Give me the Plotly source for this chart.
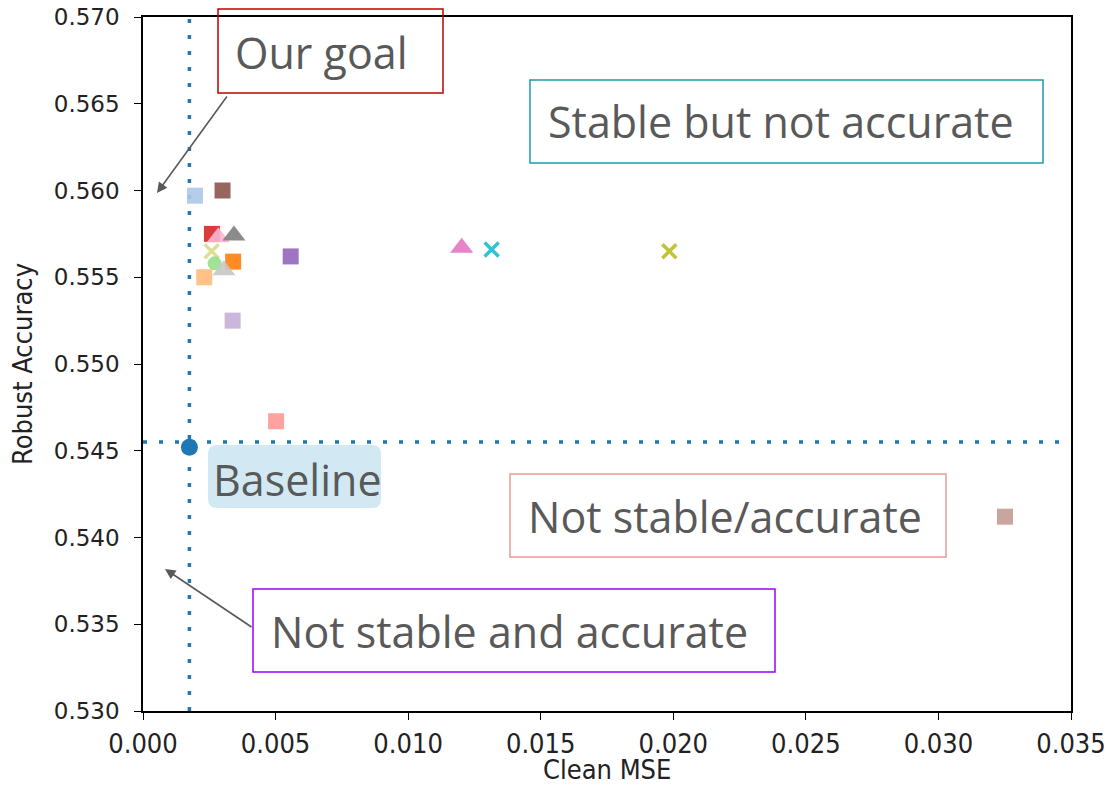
import plotly.graph_objects as go

# Clean MSE vs robust accuracy for each run (first entry is the baseline)
clean_mse = [0.00175, 0.00196, 0.00300, 0.00260, 0.00284, 0.00343, 0.00259, 0.00270,
             0.00340, 0.00305, 0.00231, 0.00557, 0.00338, 0.00502, 0.01202, 0.01315,
             0.01985, 0.03251]
robust_acc = [0.5452, 0.5597, 0.5600, 0.5575, 0.5573, 0.5574, 0.5565, 0.5558,
              0.5559, 0.5554, 0.5550, 0.5562, 0.5525, 0.5467, 0.5567, 0.5566,
              0.5565, 0.5412]

baseline_acc_level = 0.5455

x_ticks = [0.000, 0.005, 0.010, 0.015, 0.020, 0.025, 0.030, 0.035]
y_ticks = [0.530, 0.535, 0.540, 0.545, 0.550, 0.555, 0.560, 0.565, 0.570]

# marker styling per run
marker_colors = ["#1f77b4", "#aec7e8", "#8c564b", "#d62728", "#f7b6d2", "#7f7f7f",
                 "#dbdb8d", "#98df8a", "#ff7f0e", "#c7c7c7", "#ffbb78", "#9467bd",
                 "#c5b0d5", "#ff9896", "#e377c2", "#17becf", "#bcbd22", "#c49c94"]
marker_symbols = ["circle", "square", "square", "square", "triangle-up", "triangle-up",
                  "x-thin", "circle", "square", "triangle-up", "square", "square",
                  "square", "square", "triangle-up", "x-thin", "x-thin", "square"]

W, H = 1109, 788
L, R, T, B = 143, 38, 17, 77
PW, PH = W - L - R, H - T - B


def px(x):
    return (x - L) / PW


def py(y):
    return (H - B - y) / PH


fig = go.Figure()

# reference lines through the baseline
fig.add_trace(go.Scatter(
    x=[clean_mse[0], clean_mse[0]], y=[y_ticks[0], y_ticks[-1]], mode="lines",
    line=dict(color="#1f77b4", width=3.5, dash="4px,12px"), hoverinfo="skip",
    showlegend=False, cliponaxis=False))
fig.add_trace(go.Scatter(
    x=[x_ticks[0], x_ticks[-1]], y=[baseline_acc_level, baseline_acc_level], mode="lines",
    line=dict(color="#1f77b4", width=3.5, dash="4px,12px"), hoverinfo="skip",
    showlegend=False))

for i, (xv, yv) in enumerate(zip(clean_mse, robust_acc)):
    sym = marker_symbols[i]
    col = marker_colors[i]
    if sym == "x-thin":
        mk = dict(symbol=sym, size=14, color=col, line=dict(color=col, width=3.5))
    elif sym == "triangle-up":
        mk = dict(symbol=sym, size=20, color=col, line=dict(width=0))
    elif sym == "circle":
        mk = dict(symbol=sym, size=17 if i == 0 else 14, color=col, line=dict(width=0))
    else:
        mk = dict(symbol=sym, size=16, color=col, line=dict(width=0))
    fig.add_trace(go.Scatter(x=[xv], y=[yv], mode="markers", marker=mk,
                             opacity=0.9 if i else 1.0, showlegend=False))

text_col = "#595959"
box_font = dict(family="Open Sans, Lato, sans-serif", size=43, color=text_col)
axis_font = "DejaVu Sans Condensed, DejaVu Sans"

shapes = []
annotations = []


def box(x0, y0, x1, y1, color, width=1.5, fill=None):
    shapes.append(dict(type="rect", xref="paper", yref="paper",
                       x0=px(x0), x1=px(x1), y0=py(y1), y1=py(y0),
                       line=dict(color=color, width=width),
                       fillcolor=fill or "rgba(0,0,0,0)", layer="above"))


def label(x, y, text, size=43):
    annotations.append(dict(xref="paper", yref="paper", x=px(x), y=py(y), text=text,
                            showarrow=False, xanchor="left", yanchor="middle",
                            font=dict(box_font, size=size)))


def arrow(hx, hy, tx, ty):
    annotations.append(dict(xref="paper", yref="paper", x=px(hx), y=py(hy), text="",
                            showarrow=True, ax=tx - hx, ay=ty - hy, arrowhead=2,
                            arrowsize=1.3, arrowwidth=1.6, arrowcolor=text_col,
                            standoff=0, startstandoff=0))


# Baseline tag with rounded corners
bx0, by0, bx1, by1, r = 208, 445, 381, 508, 9
shapes.append(dict(
    type="path", xref="paper", yref="paper", layer="below",
    path=(f"M {px(bx0 + r)},{py(by0)} L {px(bx1 - r)},{py(by0)} "
          f"Q {px(bx1)},{py(by0)} {px(bx1)},{py(by0 + r)} L {px(bx1)},{py(by1 - r)} "
          f"Q {px(bx1)},{py(by1)} {px(bx1 - r)},{py(by1)} L {px(bx0 + r)},{py(by1)} "
          f"Q {px(bx0)},{py(by1)} {px(bx0)},{py(by1 - r)} L {px(bx0)},{py(by0 + r)} "
          f"Q {px(bx0)},{py(by0)} {px(bx0 + r)},{py(by0)} Z"),
    fillcolor="#d2e9f4", line=dict(width=0)))
label(211, 479, "Baseline")

box(218, 9, 443, 93, "#c00000")
label(233, 52, "Our goal")
arrow(157, 193, 228, 95)

box(530, 80, 1043, 163, "#1b9aaa")
label(546, 122, "Stable but not accurate")

box(510, 474, 946, 557, "#ea9a96")
label(526, 516, "Not stable/accurate")

box(253, 589, 775, 672, "#9900ff")
label(269, 631, "Not stable and accurate")
arrow(165, 569, 253, 628)

# axis titles
annotations.append(dict(xref="paper", yref="paper", x=0.5, y=py(787), text="Clean MSE",
                        showarrow=False, xanchor="center", yanchor="bottom",
                        font=dict(family=axis_font, size=27, color="#222")))
annotations.append(dict(xref="paper", yref="paper", x=px(22), y=0.5, text="Robust Accuracy",
                        showarrow=False, xanchor="center", yanchor="middle", textangle=-90,
                        font=dict(family=axis_font, size=27, color="#222")))

fig.update_layout(
    width=W, height=H, margin=dict(l=L, r=R, t=T, b=B, pad=0, autoexpand=False),
    paper_bgcolor="white", plot_bgcolor="white",
    shapes=shapes, annotations=annotations, showlegend=False,
    xaxis=dict(range=[x_ticks[0], x_ticks[-1]], tickvals=x_ticks,
               ticktext=[f"{v:.3f}" for v in x_ticks], automargin=False,
               ticks="outside", ticklen=7, tickwidth=1.2, tickcolor="black",
               ticklabelstandoff=1,
               showline=True, linecolor="black", linewidth=1.5, mirror=True,
               showgrid=False, zeroline=False,
               tickfont=dict(family=axis_font, size=27, color="#222")),
    yaxis=dict(range=[y_ticks[0], y_ticks[-1]], tickvals=y_ticks,
               ticktext=[f"{v:.3f}" for v in y_ticks], automargin=False,
               ticks="outside", ticklen=7, tickwidth=1.2, tickcolor="black",
               ticklabelstandoff=10,
               showline=True, linecolor="black", linewidth=1.5, mirror=True,
               showgrid=False, zeroline=False,
               tickfont=dict(family="DejaVu Sans", size=23, color="#222")),
)

fig.write_html("out.html")
